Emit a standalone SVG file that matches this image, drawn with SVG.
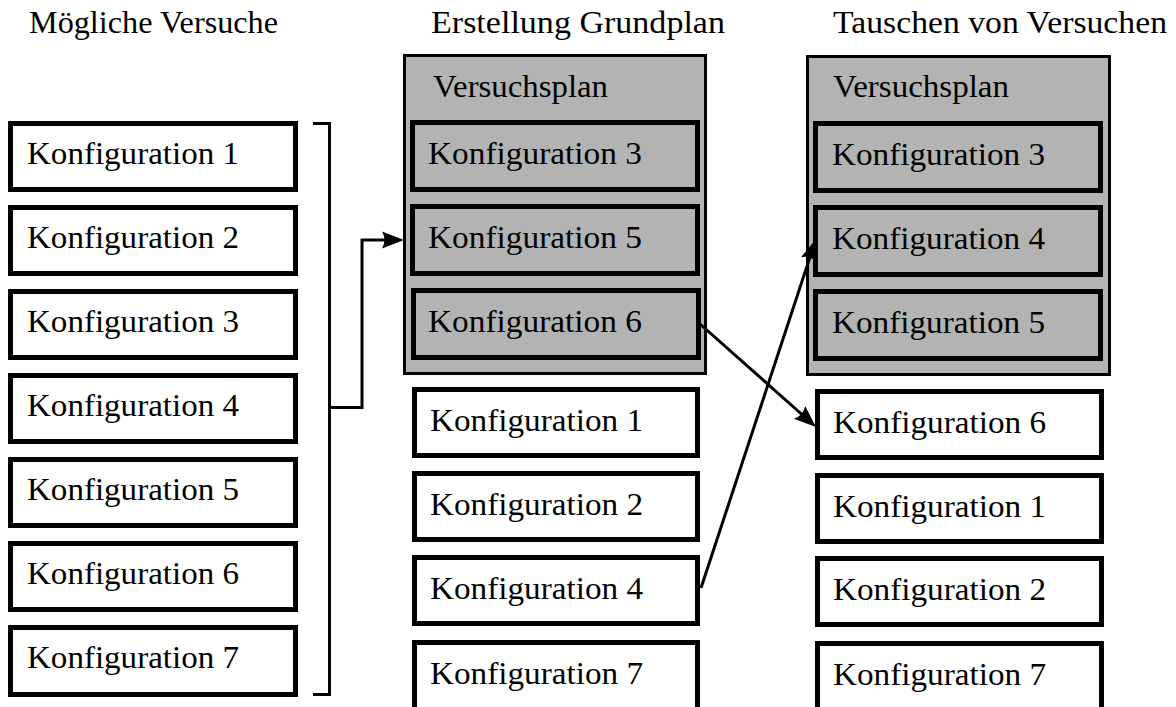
<svg xmlns="http://www.w3.org/2000/svg" width="1176" height="707" viewBox="0 0 1176 707">
  <style>
    text { font-family: "Liberation Serif", "Times New Roman", serif; font-size: 31px; fill: #000; }
    .box { fill: #fff; stroke: #000; stroke-width: 5; }
    .gbox { fill: #b3b3b3; stroke: #000; stroke-width: 5; }
    .plan { fill: #b3b3b3; stroke: #000; stroke-width: 3; }
    .wire { fill: none; stroke: #000; stroke-width: 3; }
  </style>
  <defs>
    <marker id="arrow" markerUnits="userSpaceOnUse" markerWidth="24" markerHeight="20" viewBox="0 -10 24 20" refX="10" refY="0" orient="auto">
      <path d="M0,-8.5 L22,0 L0,8.5 Q5,0 0,-8.5 Z" fill="#000"/>
    </marker>
  </defs>

  <!-- column headings -->
  <g id="headings">
    <text x="29" y="33" textLength="249" lengthAdjust="spacingAndGlyphs">Mögliche Versuche</text>
    <text x="431" y="33" textLength="294" lengthAdjust="spacingAndGlyphs">Erstellung Grundplan</text>
    <text x="833" y="33" textLength="334" lengthAdjust="spacingAndGlyphs">Tauschen von Versuchen</text>
  </g>

  <!-- column 1: all possible runs -->
  <g id="c1-k1"><rect class="box" x="10.5" y="123.5" width="285" height="66"/><text x="27" y="164" textLength="212" lengthAdjust="spacingAndGlyphs">Konfiguration 1</text></g>
  <g id="c1-k2"><rect class="box" x="10.5" y="207.5" width="285" height="66"/><text x="27" y="248" textLength="212" lengthAdjust="spacingAndGlyphs">Konfiguration 2</text></g>
  <g id="c1-k3"><rect class="box" x="10.5" y="291.5" width="285" height="66"/><text x="27" y="332" textLength="212" lengthAdjust="spacingAndGlyphs">Konfiguration 3</text></g>
  <g id="c1-k4"><rect class="box" x="10.5" y="375.5" width="285" height="66"/><text x="27" y="416" textLength="212" lengthAdjust="spacingAndGlyphs">Konfiguration 4</text></g>
  <g id="c1-k5"><rect class="box" x="10.5" y="459.5" width="285" height="66"/><text x="27" y="500" textLength="212" lengthAdjust="spacingAndGlyphs">Konfiguration 5</text></g>
  <g id="c1-k6"><rect class="box" x="10.5" y="543.5" width="285" height="66"/><text x="27" y="584" textLength="212" lengthAdjust="spacingAndGlyphs">Konfiguration 6</text></g>
  <g id="c1-k7"><rect class="box" x="10.5" y="627.5" width="285" height="67"/><text x="27" y="668" textLength="212" lengthAdjust="spacingAndGlyphs">Konfiguration 7</text></g>

  <!-- column 2: initial plan -->
  <g id="c2-plan">
    <rect class="plan" x="404.5" y="55.5" width="301" height="318"/>
    <text x="433" y="97" textLength="175" lengthAdjust="spacingAndGlyphs">Versuchsplan</text>
  </g>
  <g id="c2-k3"><rect class="gbox" x="412.5" y="122.5" width="285" height="67"/><text x="428" y="164" textLength="214" lengthAdjust="spacingAndGlyphs">Konfiguration 3</text></g>
  <g id="c2-k5"><rect class="gbox" x="412.5" y="206.5" width="285" height="67"/><text x="428" y="248" textLength="214" lengthAdjust="spacingAndGlyphs">Konfiguration 5</text></g>
  <g id="c2-k6"><rect class="gbox" x="413.5" y="290.5" width="285" height="67"/><text x="428" y="332" textLength="214" lengthAdjust="spacingAndGlyphs">Konfiguration 6</text></g>
  <g id="c2-k1"><rect class="box" x="414.5" y="389.5" width="283" height="66"/><text x="430" y="431" textLength="213" lengthAdjust="spacingAndGlyphs">Konfiguration 1</text></g>
  <g id="c2-k2"><rect class="box" x="414.5" y="473.5" width="283" height="66"/><text x="430" y="515" textLength="213" lengthAdjust="spacingAndGlyphs">Konfiguration 2</text></g>
  <g id="c2-k4"><rect class="box" x="414.5" y="557.5" width="283" height="66"/><text x="430" y="599" textLength="213" lengthAdjust="spacingAndGlyphs">Konfiguration 4</text></g>
  <g id="c2-k7"><rect class="box" x="414.5" y="642.5" width="283" height="70"/><text x="430" y="684" textLength="213" lengthAdjust="spacingAndGlyphs">Konfiguration 7</text></g>

  <!-- column 3: after swapping runs -->
  <g id="c3-plan">
    <rect class="plan" x="807.5" y="56.5" width="302" height="318"/>
    <text x="833" y="97" textLength="176" lengthAdjust="spacingAndGlyphs">Versuchsplan</text>
  </g>
  <g id="c3-k3"><rect class="gbox" x="815.5" y="123.5" width="285" height="67"/><text x="832" y="165" textLength="213" lengthAdjust="spacingAndGlyphs">Konfiguration 3</text></g>
  <g id="c3-k4"><rect class="gbox" x="815.5" y="207.5" width="285" height="67"/><text x="832" y="249" textLength="213" lengthAdjust="spacingAndGlyphs">Konfiguration 4</text></g>
  <g id="c3-k5"><rect class="gbox" x="815.5" y="291.5" width="285" height="67"/><text x="832" y="333" textLength="213" lengthAdjust="spacingAndGlyphs">Konfiguration 5</text></g>
  <g id="c3-k6"><rect class="box" x="817.5" y="391.5" width="284" height="66"/><text x="833" y="433" textLength="213" lengthAdjust="spacingAndGlyphs">Konfiguration 6</text></g>
  <g id="c3-k1"><rect class="box" x="817.5" y="475.5" width="284" height="66"/><text x="833" y="517" textLength="213" lengthAdjust="spacingAndGlyphs">Konfiguration 1</text></g>
  <g id="c3-k2"><rect class="box" x="817.5" y="558.5" width="284" height="66"/><text x="833" y="600" textLength="213" lengthAdjust="spacingAndGlyphs">Konfiguration 2</text></g>
  <g id="c3-k7"><rect class="box" x="817.5" y="643.5" width="284" height="70"/><text x="833" y="685" textLength="213" lengthAdjust="spacingAndGlyphs">Konfiguration 7</text></g>

  <!-- connectors -->
  <g id="connectors">
    <path class="wire" d="M313,123.5 H329.5 V694.5 H313"/>
    <path class="wire" d="M329.5,407.5 H362 V240 H392" marker-end="url(#arrow)"/>
    <path class="wire" d="M700,324 L807,419" marker-end="url(#arrow)"/>
    <path class="wire" d="M701,588 L812.2,250.4" marker-end="url(#arrow)"/>
  </g>
</svg>
